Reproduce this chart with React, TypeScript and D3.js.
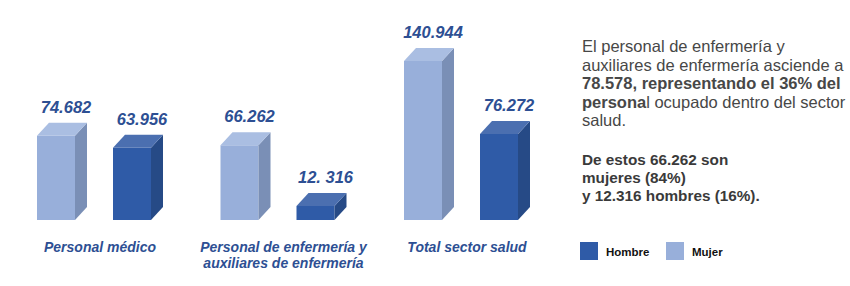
import React from "react";
import * as d3 from "d3";

const categories = ["Personal médico", "Personal de enfermería y|auxiliares de enfermería", "Total sector salud"];
const series = ["Mujer", "Hombre"];
const mujerValues = [74682, 66262, 140944];
const hombreValues = [63956, 12316, 76272];
const mujerLabels = ["74.682", "66.262", "140.944"];
const hombreLabels = ["63.956", "12. 316", "76.272"];
const legendItems = ["Hombre", "Mujer"];

const W = 850;
const H = 286;
const BASE = 220;
const DX = 12;
const DY = 13;

const colors: Record<string, { front: string; side: string; top: string }> = {
  Mujer: { front: "#98afda", side: "#7a8fb6", top: "#aabee2" },
  Hombre: { front: "#2f5ba7", side: "#264a86", top: "#4b6fb0" },
};
const labelColor = "#2d4f93";

export default function App() {
  const y = d3.scaleLinear().domain([0, 140944]).range([BASE, 61]);
  const gx = d3.scalePoint<string>().domain(categories).range([37, 404]);
  const sx = d3.scaleBand<string>().domain(series).range([0, 114]).paddingInner(0.5).paddingOuter(0);
  const bw = sx.bandwidth();

  const valuesFor = (s: string) => (s === "Mujer" ? mujerValues : hombreValues);
  const labelsFor = (s: string) => (s === "Mujer" ? mujerLabels : hombreLabels);

  const bars: React.ReactNode[] = [];
  categories.forEach((c, i) => {
    series.forEach((s) => {
      const v = valuesFor(s)[i];
      const x0 = (gx(c) as number) + (sx(s) as number);
      const x1 = x0 + bw;
      const yt = y(v);
      const col = colors[s];
      const front = `M${x0},${yt}L${x1},${yt}L${x1},${BASE}L${x0},${BASE}Z`;
      const side = `M${x1},${yt}L${x1 + DX},${yt - DY}L${x1 + DX},${BASE - DY}L${x1},${BASE}Z`;
      const top = `M${x0},${yt}L${x0 + DX},${yt - DY}L${x1 + DX},${yt - DY}L${x1},${yt}Z`;
      bars.push(
        <g key={c + s}>
          <path d={front} fill={col.front} />
          <path d={side} fill={col.side} />
          <path d={top} fill={col.top} />
          <text
            x={x0 + (bw + DX) / 2 + 4}
            y={yt - DY - 10}
            textAnchor="middle"
            fontFamily="'Liberation Sans', Arial, sans-serif"
            fontWeight="bold"
            fontStyle="italic"
            fontSize={16.5}
            fill={labelColor}
          >
            {labelsFor(s)[i]}
          </text>
        </g>
      );
    });
  });

  const catLabels = categories.map((c) => {
    const cx = (gx(c) as number) + (114 + DX) / 2;
    const lines = c.split("|");
    return (
      <text
        key={c}
        x={cx}
        y={252}
        textAnchor="middle"
        fontFamily="'Liberation Sans', Arial, sans-serif"
        fontWeight="bold"
        fontStyle="italic"
        fontSize={14}
        fill={labelColor}
      >
        {lines.map((l, k) => (
          <tspan key={k} x={cx} dy={k === 0 ? 0 : 16}>
            {l}
          </tspan>
        ))}
      </text>
    );
  });

  const tf = "'Liberation Sans', Arial, Helvetica, sans-serif";
  const lh = 18.6;

  return (
    <svg width={W} height={H} style={{ position: "absolute", left: 0, top: 0 }}>
      <rect width={W} height={H} fill="#ffffff" />
      {bars}
      {catLabels}
      <text fontFamily={tf} fontSize={16.5} fill="#474747">
        <tspan x={582} y={52}>El personal de enfermería y</tspan>
        <tspan x={582} y={52 + lh}>auxiliares de enfermería asciende a</tspan>
        <tspan x={582} y={52 + 2 * lh} fontWeight="bold">78.578, representando el 36% del</tspan>
        <tspan x={582} y={52 + 3 * lh} fontWeight="bold">persona</tspan>
        <tspan>l ocupado dentro del sector</tspan>
        <tspan x={582} y={52 + 4 * lh}>salud.</tspan>
      </text>
      <text fontFamily={tf} fontSize={15.3} fontWeight="bold" fill="#3a3a3a">
        <tspan x={582} y={165}>De estos 66.262 son</tspan>
        <tspan x={582} y={183}>mujeres (84%)</tspan>
        <tspan x={582} y={201}>y 12.316 hombres (16%).</tspan>
      </text>
      {legendItems.map((s, i) => (
        <g key={s} transform={`translate(${580 + i * 86},242)`}>
          <rect width={18} height={18} fill={colors[s].front} />
          <text x={26} y={14} fontFamily={tf} fontSize={11.5} fontWeight="bold" fill="#111">
            {s}
          </text>
        </g>
      ))}
    </svg>
  );
}
